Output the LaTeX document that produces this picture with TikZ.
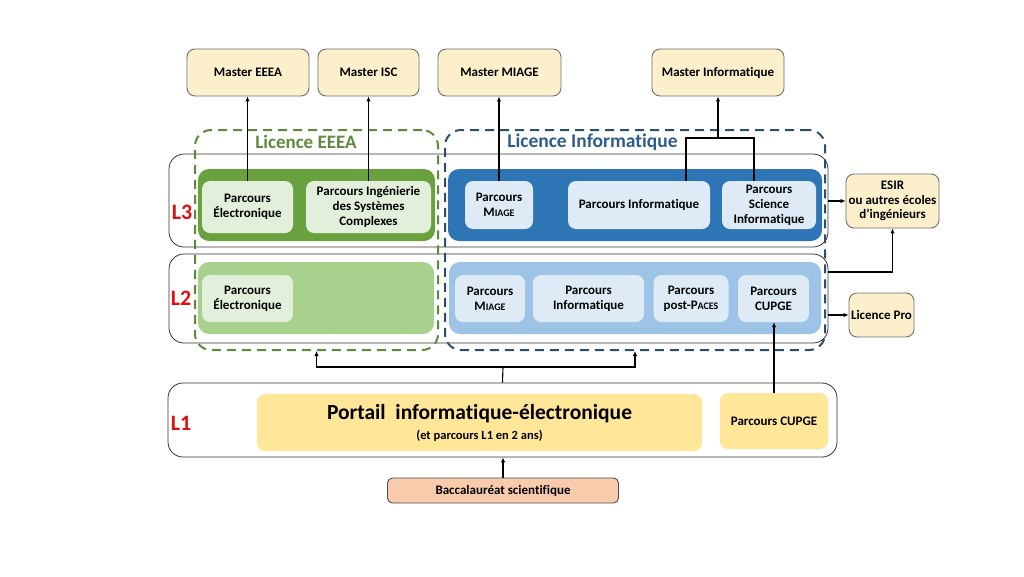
\documentclass[tikz,border=0pt]{standalone}
\usepackage{fontspec}
\setmainfont{Carlito}[Ligatures=NoCommon]
\usetikzlibrary{arrows.meta}
\newcommand\mysmcap[2]{#1{\fontsize{10}{12}\selectfont #2}}
\definecolor{masterfill}{HTML}{FCEFCB}
\definecolor{boxline}{HTML}{6F6F6F}
\definecolor{greenA}{HTML}{6AA13F}
\definecolor{greenB}{HTML}{A9D18E}
\definecolor{greenC}{HTML}{E2EFDA}
\definecolor{greenD}{HTML}{5E8A3E}
\definecolor{blueA}{HTML}{2E75B6}
\definecolor{blueB}{HTML}{9DC3E6}
\definecolor{blueC}{HTML}{DEEBF7}
\definecolor{blueD}{HTML}{2A4E70}
\definecolor{blueT}{HTML}{2E5C8A}
\definecolor{portail}{HTML}{FFE699}
\definecolor{bacfill}{HTML}{F8CBAD}
\definecolor{lred}{HTML}{E01010}
\begin{document}
\begin{tikzpicture}[x=1pt,y=-1pt,
  every node/.style={inner sep=0pt, align=center, font=\bfseries\fontsize{13}{15}\selectfont},
  master/.style={draw=boxline, fill=masterfill, rounded corners=8pt, line width=0.9pt},
  level/.style={draw=black!80, fill=white, rounded corners=15pt, line width=0.8pt},
  area/.style={rounded corners=11pt},
  parc/.style={rounded corners=8pt},
  licbox/.style={rounded corners=16pt, line width=2pt, dash pattern=on 9pt off 6pt},
  lab/.style={text=lred, font=\bfseries\fontsize{22}{24}\selectfont},
  arr/.style={line width=1.1pt, -{Latex[length=5pt,width=4.5pt]}},
  ln/.style={line width=1.1pt}
]
\useasboundingbox (0,0) rectangle (1024,576);
% level boxes
\node[level, minimum width=659pt, minimum height=93pt] (l3) at (498.5,200.5) {};
\node[level, minimum width=659pt, minimum height=89pt] (l2) at (498.5,298.5) {};
\node[level, minimum width=669pt, minimum height=74pt] (l1) at (502.5,420) {};
% masters
\node[master, minimum width=122pt, minimum height=47pt] (mE) at (248,72.5) {Master EEEA};
\node[master, minimum width=101pt, minimum height=47pt] (mI) at (368.5,72.5) {Master ISC};
\node[master, minimum width=123pt, minimum height=47pt] (mM) at (499.5,72.5) {Master MIAGE};
\node[master, minimum width=132pt, minimum height=47pt] (mX) at (718,72.5) {Master Informatique};
% L3 areas
\node[area, fill=greenA, minimum width=237pt, minimum height=72pt] (g3) at (316.5,205) {};
\node[area, fill=blueA, minimum width=374pt, minimum height=72pt] (b3) at (635,205) {};
\node[parc, fill=greenC, minimum width=91pt, minimum height=52pt] (pe3) at (247.5,207) {Parcours\\Électronique};
\node[parc, fill=greenC, minimum width=125pt, minimum height=52pt] (pisc) at (368.5,207) {Parcours Ingénierie\\des Systèmes\\Complexes};
\node[parc, fill=blueC, minimum width=68pt, minimum height=48pt] (pm3) at (499,205) {Parcours\\\mysmcap{M}{IAGE}};
\node[parc, fill=blueC, minimum width=142pt, minimum height=48pt] (pi3) at (639,205) {Parcours Informatique};
\node[parc, fill=blueC, minimum width=94pt, minimum height=48pt] (psi3) at (769,205) {Parcours\\Science\\Informatique};
% L2 areas
\node[area, fill=greenB, minimum width=236pt, minimum height=72pt] (g2) at (316,298) {};
\node[area, fill=blueB, minimum width=372pt, minimum height=72pt] (b2) at (635,298) {};
\node[parc, fill=greenC, minimum width=91pt, minimum height=47pt] (pe2) at (247.5,298.5) {Parcours\\Électronique};
\node[parc, fill=blueC, minimum width=70pt, minimum height=47pt] (pm2) at (490,298.5) {Parcours\\\mysmcap{M}{IAGE}};
\node[parc, fill=blueC, minimum width=111pt, minimum height=47pt] (pi2) at (588.5,298.5) {Parcours\\Informatique};
\node[parc, fill=blueC, minimum width=75pt, minimum height=47pt] (ppa2) at (691,298.5) {Parcours\\post-\mysmcap{P}{ACES}};
\node[parc, fill=blueC, minimum width=71pt, minimum height=47pt] (pc2) at (773.5,298.5) {Parcours\\CUPGE};
% L1
\node[parc, fill=portail, minimum width=445pt, minimum height=57pt] (port) at (479.5,422.5) {};
\node[font=\bfseries\fontsize{21.5}{24}\selectfont] (portt) at (479.5,414) {Portail\ \ informatique-électronique};
\node[font=\bfseries\fontsize{12.5}{14}\selectfont] (ports) at (479.5,436) {(et parcours L1 en 2 ans)};
\node[parc, fill=portail, minimum width=108pt, minimum height=56pt] (pc1) at (774,421) {Parcours CUPGE};
\node[draw=black!70, fill=bacfill, rounded corners=5pt, line width=0.9pt, minimum width=231pt, minimum height=25pt] (bac) at (503,490.5) {Baccalauréat scientifique};
% right boxes
\node[master, minimum width=93pt, minimum height=54pt, font=\bfseries\fontsize{13}{14.5}\selectfont] (esir) at (892.5,201) {ESIR\\ou autres écoles\\d’ingénieurs};
\node[master, minimum width=65pt, minimum height=44pt] (lpro) at (881.5,315) {Licence Pro};
% labels
\node[lab] (tl3) at (182,212) {L3};
\node[lab] (tl2) at (181,298) {L2};
\node[lab] (tl1) at (181,423) {L1};
% licence dashed boxes
\node[licbox, draw=greenD, minimum width=243pt, minimum height=220pt] (lE) at (316.5,240) {};
\node[licbox, draw=blueD, minimum width=380pt, minimum height=220pt] (lX) at (635,240) {};
\node[text=greenD, font=\bfseries\fontsize{19}{21}\selectfont] (tE) at (306,142) {Licence EEEA};
\node[text=blueT, font=\bfseries\fontsize{19.5}{21}\selectfont] (tX) at (592.5,142) {Licence Informatique};
% arrows to masters
\draw[arr] (pe3.north) -- (pe3.north |- mE.south);
\draw[arr] (pisc.north) -- (mI.south);
\draw[arr] (pm3.north) -- (pm3.north |- mM.south);
\coordinate (jx) at (718,138);
\draw[ln] (pi3.north -| 686,0) |- (jx) -| (psi3.north -| 754,0);
\draw[arr] (jx) -- (mX.south);
% right arrows
\draw[arr] (l3.east |- esir.west) -- (esir.west);
\coordinate (l2a) at (828,272);
\draw[arr] (l2a) -| (esir.south);
\draw[arr] (l2.east |- lpro.west) -- (lpro.west);
% L1 to L2
\coordinate (j1) at (503,367);
\draw[ln] (l1.north) -- (j1);
\draw[arr] (j1) -| (lE.south);
\draw[arr] (j1) -| (lX.south);
\draw[arr] (pc1.north) -- (pc1.north |- pc2.south);
\draw[arr] (bac.north) -- (bac.north |- l1.south);
\end{tikzpicture}
\end{document}
